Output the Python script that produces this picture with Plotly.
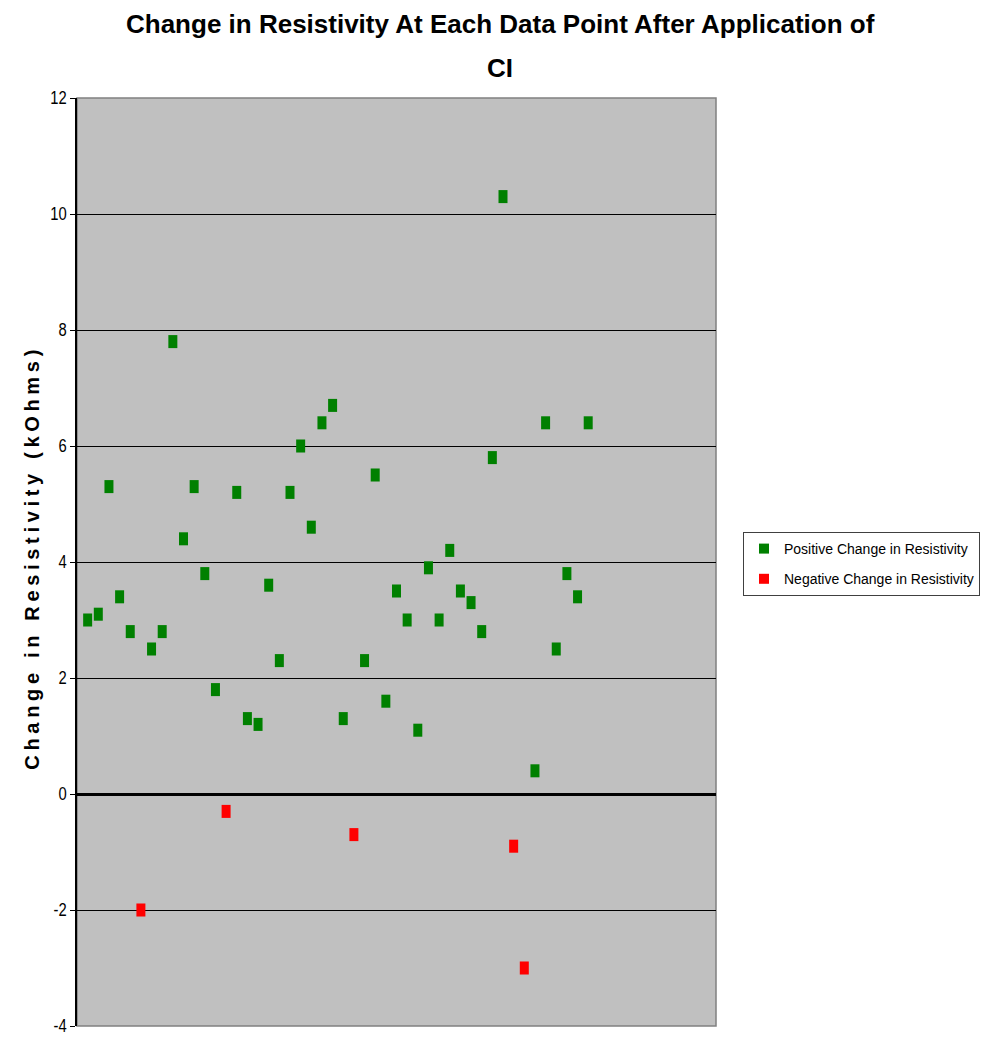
import plotly.graph_objects as go

# ---- data ----
pos_x = [1, 2, 3, 4, 5, 7, 8, 9, 10, 11, 12, 13, 15, 16, 17, 18, 19, 20, 21, 22, 23, 24, 25,
         27, 28, 29, 30, 31, 32, 33, 34, 35, 36, 37, 38, 39, 40, 43, 44, 45, 46, 47, 48]
pos_y = [3.0, 3.1, 5.3, 3.4, 2.8, 2.5, 2.8, 7.8, 4.4, 5.3, 3.8, 1.8, 5.2, 1.3, 1.2, 3.6, 2.3,
         5.2, 6.0, 4.6, 6.4, 6.7, 1.3, 2.3, 5.5, 1.6, 3.5, 3.0, 1.1, 3.9, 3.0, 4.2, 3.5, 3.3,
         2.8, 5.8, 10.3, 0.4, 6.4, 2.5, 3.8, 3.4, 6.4]
neg_x = [6, 14, 26, 41, 42]
neg_y = [-2.0, -0.3, -0.7, -0.9, -3.0]

pos_name = "Positive Change in Resistivity"
neg_name = "Negative Change in Resistivity"
title_line1 = "Change in Resistivity At Each Data Point After Application of"
title_line2 = "CI"
y_title = "Change in Resistivity (kOhms)"
y_ticks = [-4, -2, 0, 2, 4, 6, 8, 10, 12]

FONT = "Liberation Sans, Arial, sans-serif"
GREEN = "#008000"
RED = "#FF0000"

fig = go.Figure()
series = [(pos_x, pos_y, pos_name, GREEN), (neg_x, neg_y, neg_name, RED)]
for i, (xs, ys, nm, col) in enumerate(series):
    # data marks: 9 px wide x 13 px tall rectangles
    fig.add_trace(go.Scatter(
        x=xs, y=ys, mode="markers", name=nm, showlegend=False, legendgroup=f"g{i}",
        marker=dict(symbol="line-ns", size=9.3, color=col, line=dict(color=col, width=9)),
    ))
for i, (xs, ys, nm, col) in enumerate(series):
    # legend entries (square swatches)
    fig.add_trace(go.Scatter(
        x=[None], y=[None], mode="markers", name=nm, showlegend=True, legendgroup=f"g{i}",
        marker=dict(symbol="square", size=10, color=col, line=dict(width=0)),
    ))

fig.update_layout(
    width=989, height=1037,
    margin=dict(l=77, r=273, t=98, b=11, autoexpand=False),
    paper_bgcolor="white",
    plot_bgcolor="#C0C0C0",
    showlegend=True,
    legend=dict(
        xref="container", yref="container",
        x=743 / 989, y=1 - 532 / 1037, xanchor="left", yanchor="top",
        bgcolor="white", bordercolor="#404040", borderwidth=1,
        font=dict(family=FONT, size=14, color="black"),
        tracegroupgap=9,
    ),
    xaxis=dict(range=[0, 60], showgrid=False, zeroline=False, showticklabels=False,
               ticks="", showline=False, automargin=False),
    yaxis=dict(range=[-4, 12], tickvals=y_ticks, ticktext=[str(v) for v in y_ticks],
               showgrid=True, gridcolor="black", gridwidth=1,
               zeroline=True, zerolinecolor="black", zerolinewidth=3,
               showline=True, linecolor="black", linewidth=1.5,
               ticks="outside", ticklen=5, tickcolor="black", tickwidth=1,
               ticklabeloverflow="allow", automargin=False,
               tickfont=dict(family=FONT, size=18, color="black")),
    shapes=[dict(type="rect", xref="paper", yref="paper", x0=0, x1=1, y0=0, y1=1,
                 line=dict(color="#808080", width=1.5), layer="below")],
    annotations=[
        dict(text=f"<b>{title_line1}</b>", xref="paper", yref="paper", x=0.662, y=1.0796,
             xanchor="center", yanchor="middle", showarrow=False,
             font=dict(family=FONT, size=26, color="black")),
        dict(text=f"<b>{title_line2}</b>", xref="paper", yref="paper", x=0.662, y=1.0323,
             xanchor="center", yanchor="middle", showarrow=False,
             font=dict(family=FONT, size=26, color="black")),
        dict(text=f"<b>{y_title}</b>", xref="paper", yref="paper", x=-0.0705, y=0.503,
             xanchor="center", yanchor="middle", showarrow=False, textangle=-90,
             font=dict(family=FONT, size=20, color="black")),
    ],
)

post = """
var gd = document.getElementById('{plot_id}');
function squeeze(el, factor, mode){
  if (el.getAttribute('data-sq') === el.textContent) return;
  el.removeAttribute('textLength');
  var L = el.getComputedTextLength();
  el.setAttribute('textLength', (factor < 5) ? L * factor : factor);
  el.setAttribute('lengthAdjust', mode);
  el.setAttribute('data-sq', el.textContent);
}
function fixText(){
  document.querySelectorAll('.annotation-text').forEach(function(t){
    if (t.textContent.indexOf('Change in Resistivity (') === 0) { squeeze(t, 420, 'spacing'); }
  });
  document.querySelectorAll('.ytick text').forEach(function(t){ squeeze(t, 0.82, 'spacingAndGlyphs'); });
}
fixText();
if (gd && gd.on) { gd.on('plotly_afterplot', fixText); }
"""
fig.write_html("out.html", post_script=post)
